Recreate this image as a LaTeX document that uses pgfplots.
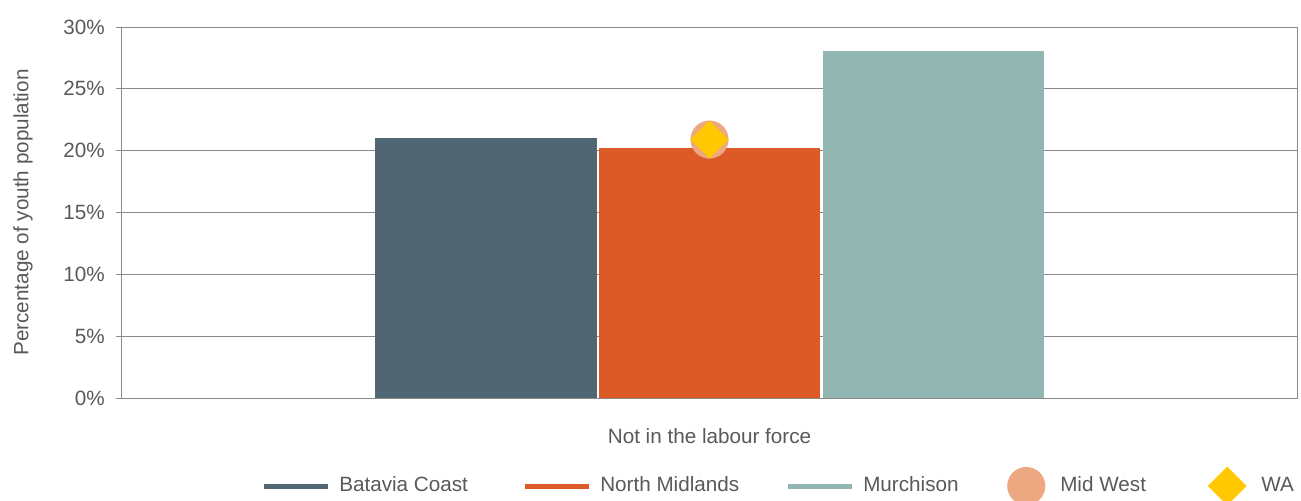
\documentclass[border=0pt]{standalone}
\usepackage{fontspec}
\setmainfont{Liberation Sans}
\usepackage{pgfplots}
\pgfplotsset{compat=1.18}
\usetikzlibrary{shapes.geometric}

\definecolor{bcoast}{HTML}{506673}
\definecolor{nmid}{HTML}{DC5A28}
\definecolor{murch}{HTML}{92B7B3}
\definecolor{midwest}{HTML}{EDA882}
\definecolor{wa}{HTML}{FFC800}
\definecolor{txt}{HTML}{595959}
\definecolor{axisgrey}{HTML}{8A8A8A}

\begin{document}
\fontsize{15.5pt}{18pt}\selectfont
\begin{tikzpicture}
\begin{axis}[
  at={(0,0)}, anchor=south west,
  scale only axis, width=881.25pt, height=278.25pt,
  xmin=-2.623, xmax=2.623, ymin=0, ymax=30,
  xtick={0}, xticklabels={Not in the labour force},
  xtick style={draw=none},
  xticklabel style={yshift=-13pt, text=txt},
  ytick={0,5,10,15,20,25,30},
  yticklabels={0\%,5\%,10\%,15\%,20\%,25\%,30\%},
  yticklabel style={xshift=-3pt, text=txt},
  ytick pos=left, tick align=outside, major tick length=4.5pt,
  ytick style={draw=axisgrey, line width=0.75pt},
  ymajorgrids, grid style={draw=axisgrey, line width=0.75pt},
  axis line style={draw=axisgrey, line width=0.75pt},
  ylabel={Percentage of youth population},
  ylabel style={at={(axis description cs:-0.0842,0.5)}, anchor=center, text=txt},
  legend columns=5,
  legend cell align=left,
  legend style={at={(0.1183,-0.2372)}, anchor=west, draw=none, fill=none,
    inner sep=0pt, column sep=0pt, nodes={inner xsep=0pt, text=txt}},
]
% regional bars
\addplot[ybar, bar width=0.991, bar shift=0pt, fill=bcoast, draw=none,
  legend image code/.code={\draw[draw=bcoast, line width=3.75pt] (0pt,0pt) -- (48pt,0pt);}]
  coordinates {(-1,21.0)};
\addlegendentry{\hspace{6.75pt}\makebox[137.25pt][l]{Batavia Coast}}
\addplot[ybar, bar width=0.991, bar shift=0pt, fill=nmid, draw=none,
  legend image code/.code={\draw[draw=nmid, line width=3.75pt] (0pt,0pt) -- (48pt,0pt);}]
  coordinates {(0,20.2)};
\addlegendentry{\hspace{6.75pt}\makebox[138.75pt][l]{North Midlands}}
\addplot[ybar, bar width=0.991, bar shift=0pt, fill=murch, draw=none,
  legend image code/.code={\draw[draw=murch, line width=3.75pt] (0pt,0pt) -- (48pt,0pt);}]
  coordinates {(1,28.05)};
\addlegendentry{\hspace{6.75pt}\makebox[105.75pt][l]{Murchison}}
% benchmark markers
\addplot[only marks, mark=*, mark size=14.1pt, color=midwest, line width=0.3pt,
  legend image code/.code={\path[draw=none] (0pt,0pt) -- (33pt,0pt);
    \path (16.5pt,0pt) node[anchor=center, circle, draw=none, fill=midwest,
      minimum size=28.6pt, inner sep=0pt] {};}]
  coordinates {(0,20.9)};
\addlegendentry{\hspace{9pt}\makebox[108.75pt][l]{Mid West}}
\addplot[only marks, mark=square*, mark size=9.9pt, color=wa, line width=0.3pt,
  mark options={rotate=45},
  legend image code/.code={\path[draw=none] (0pt,0pt) -- (33pt,0pt);
    \path (16.5pt,0pt) node[anchor=center, diamond, draw=none, fill=wa,
      minimum size=29.3pt, inner sep=0pt] {};}]
  coordinates {(0,20.9)};
\addlegendentry{\hspace{9pt}WA}
\end{axis}
\pgfresetboundingbox
\useasboundingbox (-91.5pt,-76.5pt) rectangle (884.25pt,298.5pt);
\end{tikzpicture}
\end{document}
